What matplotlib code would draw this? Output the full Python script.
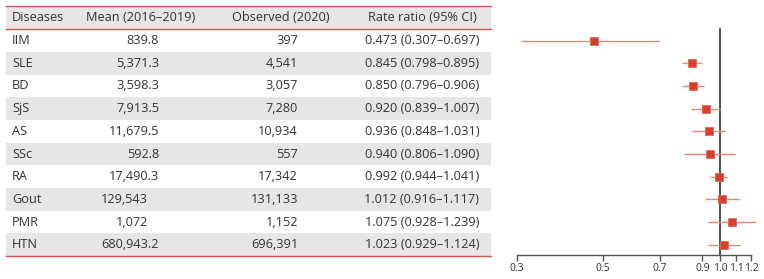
import matplotlib
matplotlib.use("Agg")
import matplotlib.pyplot as plt
from matplotlib.patches import Rectangle

diseases = ["IIM", "SLE", "BD", "SjS", "AS", "SSc", "RA", "Gout", "PMR", "HTN"]
mean_2016_2019 = ["839.8", "5,371.3", "3,598.3", "7,913.5", "11,679.5", "592.8",
                  "17,490.3", "129,543", "1,072", "680,943.2"]
observed_2020 = ["397", "4,541", "3,057", "7,280", "10,934", "557",
                 "17,342", "131,133", "1,152", "696,391"]
rate_ratio = [0.473, 0.845, 0.850, 0.920, 0.936, 0.940, 0.992, 1.012, 1.075, 1.023]
ci_low = [0.307, 0.798, 0.796, 0.839, 0.848, 0.806, 0.944, 0.916, 0.928, 0.929]
ci_high = [0.697, 0.895, 0.906, 1.007, 1.031, 1.090, 1.041, 1.117, 1.239, 1.124]
headers = ["Diseases", "Mean (2016\u20132019)", "Observed (2020)", "Rate ratio (95% CI)"]
xticks = [0.3, 0.5, 0.7, 0.9, 1.0, 1.1, 1.2]

plt.rcParams['font.family'] = ['Open Sans', 'DejaVu Sans']
text_col = '#333333'
red = '#d9534f'
band = '#e6e6e6'

W, H = 764, 279
fig = plt.figure(figsize=(W / 100, H / 100), dpi=100)

# row index <-> pixel mapping
y0, step = 40.5, 22.7
ylim = ((H - y0) / step, -y0 / step)

tab = fig.add_axes([0, 0, 1, 1])
tab.set_xlim(0, W)
tab.set_ylim(*ylim)
tab.axis('off')

n = len(diseases)
left, right = 6, 491
# header band
tab.add_patch(Rectangle((left, -1.5), right - left, 1.0, color=band, lw=0))
for i in range(n):
    if i % 2 == 1:
        tab.add_patch(Rectangle((left, i - 0.5), right - left, 1.0, color=band, lw=0))
for yy in [-1.5, -0.5, n - 0.5]:
    tab.plot([left, right], [yy, yy], color=red, lw=1.0)

fs = 9.2
tab.text(12, -1, headers[0], ha='left', va='center', fontsize=fs, color=text_col)
tab.text(141, -1, headers[1], ha='center', va='center', fontsize=fs, color=text_col)
tab.text(281, -1, headers[2], ha='center', va='center', fontsize=fs, color=text_col)
tab.text(422, -1, headers[3], ha='center', va='center', fontsize=fs, color=text_col)

for i in range(n):
    tab.text(12, i, diseases[i], ha='left', va='center', fontsize=fs, color=text_col)
    m = mean_2016_2019[i]
    tab.text(159 if '.' in m else 148, i, m, ha='right', va='center', fontsize=fs, color=text_col)
    tab.text(298, i, observed_2020[i], ha='right', va='center', fontsize=fs, color=text_col)
    rr = f"{rate_ratio[i]:.3f} ({ci_low[i]:.3f}\u2013{ci_high[i]:.3f})"
    tab.text(422, i, rr, ha='center', va='center', fontsize=fs, color=text_col)

# forest plot
axis_px = 254.5
ax = fig.add_axes([517 / W, 0, 234 / W, 1])
ax.set_ylim(*ylim)
ax.set_xscale('log')
ax.set_xlim(0.3, 1.2)
ax.patch.set_alpha(0)
for s in ['top', 'right', 'left']:
    ax.spines[s].set_visible(False)
ax.spines['bottom'].set_position(('data', (axis_px - y0) / step))
ax.spines['bottom'].set_color('#555555')
ax.spines['bottom'].set_linewidth(1.0)
ax.set_xticks(xticks)
ax.set_xticklabels([f"{t:.1f}" for t in xticks])
ax.xaxis.set_minor_locator(matplotlib.ticker.NullLocator())
ax.tick_params(axis='x', length=4, width=1.0, color='#555555', labelsize=7.5,
               labelcolor=text_col, pad=2)
ax.set_yticks([])

ax.plot([1.0, 1.0], [-0.5, (axis_px - y0) / step], color='#333333', lw=1.2)
for i in range(n):
    ax.plot([ci_low[i], ci_high[i]], [i, i], color='#ec8573', lw=1.0,
            solid_capstyle='butt', clip_on=False)
    ax.plot(rate_ratio[i], i, marker='s', markersize=5.8, color='#d6402e',
            markeredgecolor='#e06a58', markeredgewidth=0.6, clip_on=False)

fig.savefig('out.png', dpi=100)
